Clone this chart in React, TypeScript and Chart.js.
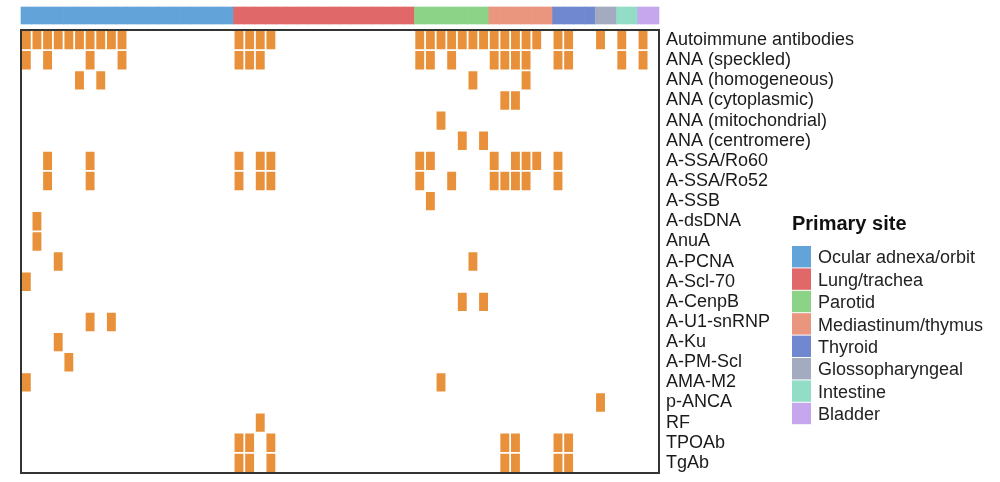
import React, { useEffect, useRef } from "react";
import { Chart, registerables } from "chart.js";

Chart.register(...registerables);

// ---- Data ----
const antibodies: string[] = [
  "Autoimmune antibodies",
  "ANA (speckled)",
  "ANA (homogeneous)",
  "ANA (cytoplasmic)",
  "ANA (mitochondrial)",
  "ANA (centromere)",
  "A-SSA/Ro60",
  "A-SSA/Ro52",
  "A-SSB",
  "A-dsDNA",
  "AnuA",
  "A-PCNA",
  "A-Scl-70",
  "A-CenpB",
  "A-U1-snRNP",
  "A-Ku",
  "A-PM-Scl",
  "AMA-M2",
  "p-ANCA",
  "RF",
  "TPOAb",
  "TgAb",
];

const siteNames: string[] = [
  "Ocular adnexa/orbit",
  "Lung/trachea",
  "Parotid",
  "Mediastinum/thymus",
  "Thyroid",
  "Glossopharyngeal",
  "Intestine",
  "Bladder",
];

const siteColors: string[] = [
  "#62A3D9",
  "#E06868",
  "#8DD387",
  "#EA967F",
  "#7088CF",
  "#A2ABBF",
  "#93DCC6",
  "#C6A6EC",
];

// number of patients (columns) per primary site, left to right
const siteCounts: number[] = [20, 17, 7, 6, 4, 2, 2, 2];

// positive patients (column indices) for each antibody row
const positiveColumns: number[][] = [
  [0, 1, 2, 3, 4, 5, 6, 7, 8, 9, 20, 21, 22, 23, 37, 38, 39, 40, 41, 42, 43, 44, 45, 46, 47, 48, 50, 51, 54, 56, 58],
  [0, 2, 6, 9, 20, 21, 22, 37, 38, 40, 44, 45, 46, 47, 50, 51, 56, 58],
  [5, 7, 42, 47],
  [45, 46],
  [39],
  [41, 43],
  [2, 6, 20, 22, 23, 37, 38, 44, 46, 47, 48, 50],
  [2, 6, 20, 22, 23, 37, 40, 44, 45, 46, 47, 50],
  [38],
  [1],
  [1],
  [3, 42],
  [0],
  [41, 43],
  [6, 8],
  [3],
  [4],
  [0, 39],
  [54],
  [22],
  [20, 21, 23, 45, 46, 50, 51],
  [20, 21, 23, 45, 46, 50, 51],
];

const CELL_COLOR = "#E8913A";
const FONT_FAMILY = '"Liberation Sans", Arial, Helvetica, sans-serif';

const panelBorder = {
  id: "panelBorder",
  afterDatasetsDraw(chart: any) {
    const { ctx, chartArea } = chart;
    ctx.save();
    ctx.strokeStyle = "#333333";
    ctx.lineWidth = 2;
    ctx.strokeRect(
      chartArea.left,
      chartArea.top,
      chartArea.right - chartArea.left,
      chartArea.bottom - chartArea.top
    );
    ctx.restore();
  },
};

const siteLegend = {
  id: "siteLegend",
  afterDraw(chart: any) {
    const { ctx, chartArea } = chart;
    const x0 = chartArea.right + 133;
    ctx.save();
    ctx.textAlign = "left";
    ctx.textBaseline = "alphabetic";
    ctx.fillStyle = "#111111";
    ctx.font = `bold 20px ${FONT_FAMILY}`;
    ctx.fillText("Primary site", x0, 230);
    ctx.font = `18px ${FONT_FAMILY}`;
    siteNames.forEach((name, i) => {
      const top = 246 + i * 22.4;
      ctx.fillStyle = siteColors[i];
      ctx.fillRect(x0, top, 19, 21.4);
      ctx.fillStyle = "#222222";
      ctx.fillText(name, x0 + 26, top + 17.3);
    });
    ctx.restore();
  },
};

export default function App() {
  const canvasRef = useRef<HTMLCanvasElement | null>(null);

  useEffect(() => {
    if (!canvasRef.current) return;
    const nCols = siteCounts.reduce((a, b) => a + b, 0);
    const colSite: number[] = [];
    siteCounts.forEach((n, s) => {
      for (let k = 0; k < n; k++) colSite.push(s);
    });

    const cells = positiveColumns.flatMap((cols, r) =>
      cols.map((c) => ({ x: c + 0.5, y: [r, r + 1] }))
    );
    const strip = colSite.map((_s, c) => ({ x: c + 0.5, y: [0, 1] }));

    Chart.defaults.font.family = FONT_FAMILY;

    const chart = new Chart(canvasRef.current, {
      type: "bar",
      data: {
        datasets: [
          {
            label: "Primary site",
            data: strip as any,
            xAxisID: "x",
            yAxisID: "yAnno",
            backgroundColor: colSite.map((s) => siteColors[s]),
            borderWidth: 0,
            grouped: false,
            clip: false as any,
            barPercentage: 1,
            categoryPercentage: 1,
          } as any,
          {
            label: "Positive",
            data: cells as any,
            xAxisID: "x",
            yAxisID: "y",
            backgroundColor: CELL_COLOR,
            borderColor: "#ffffff",
            borderWidth: 1.2,
            borderSkipped: false,
            grouped: false,
            barPercentage: 1,
            categoryPercentage: 1,
          } as any,
        ],
      },
      options: {
        responsive: false,
        animation: false,
        layout: { padding: { left: 21, top: 30, right: 141, bottom: 9 } },
        plugins: {
          legend: { display: false },
          tooltip: { enabled: false },
        },
        scales: {
          x: {
            type: "linear",
            min: 0,
            max: nCols,
            display: false,
            offset: false,
          },
          y: {
            type: "linear",
            position: "right",
            reverse: true,
            min: 0,
            max: antibodies.length,
            clip: false,
            grid: { display: false, drawTicks: false },
            border: { display: false },
            afterBuildTicks: (scale: any) => {
              scale.ticks = antibodies.map((_a, i) => ({ value: i + 0.5 }));
            },
            afterFit: (scale: any) => {
              scale.width = 200;
              scale.paddingTop = 0;
              scale.paddingBottom = 0;
            },
            ticks: {
              autoSkip: false,
              padding: 7,
              color: "#1a1a1a",
              font: { size: 18, lineHeight: 1 },
              callback: (_v: any, i: number) => antibodies[i],
            },
          },
          // hidden axis placing the primary-site strip above the panel
          yAnno: {
            type: "linear",
            display: false,
            reverse: true,
            min: 23 / 17,
            max: 23 / 17 + 443 / 17,
          },
        } as any,
      },
      plugins: [panelBorder, siteLegend],
    });

    return () => chart.destroy();
  }, []);

  return (
    <div style={{ position: "absolute", left: 0, top: 0, width: 1000, height: 482, background: "#fff" }}>
      <canvas ref={canvasRef} width={1000} height={482} style={{ display: "block" }} />
    </div>
  );
}
